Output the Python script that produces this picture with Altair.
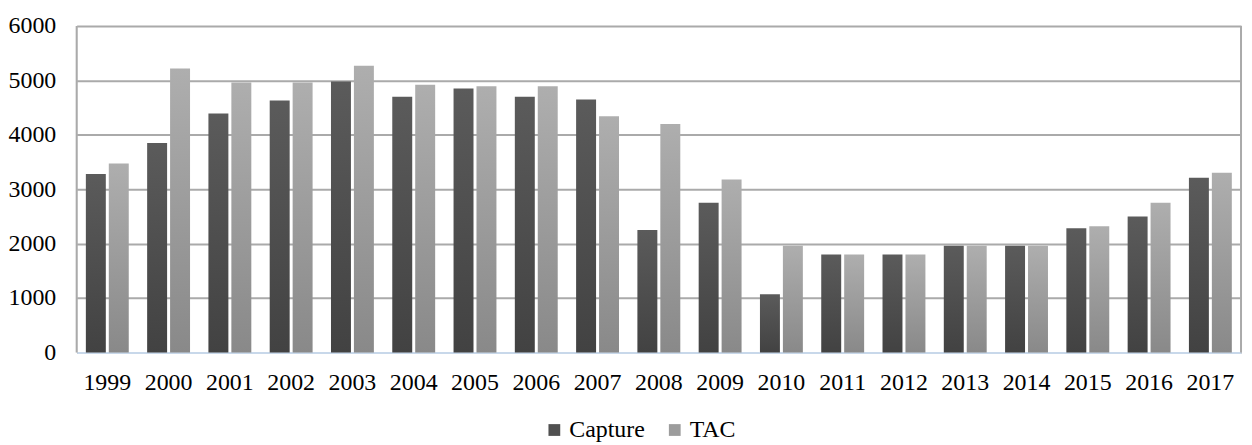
import altair as alt
import pandas as pd

years = [str(y) for y in range(1999, 2018)]
capture = [3280, 3850, 4390, 4630, 4980, 4700, 4850, 4700, 4650, 2250, 2750, 1070, 1800, 1800, 1960, 1960, 2280, 2500, 3210]
tac = [3470, 5220, 4960, 4960, 5270, 4920, 4890, 4890, 4340, 4200, 3180, 1960, 1800, 1800, 1960, 1960, 2320, 2750, 3300]
series = ["Capture", "TAC"]

rows = []
for i, y in enumerate(years):
    rows.append({"year": y, "series": "Capture", "value": capture[i]})
    rows.append({"year": y, "series": "TAC", "value": tac[i]})
df = pd.DataFrame(rows)

FONT = "Liberation Serif"
FS = 24

x = alt.X("year:N", sort=years, title=None,
          scale=alt.Scale(paddingInner=0.3, paddingOuter=0.15),
          axis=alt.Axis(labelAngle=0, labelFontSize=FS, labelFont=FONT, labelColor="#000",
                        ticks=False, labelPadding=18, domainColor="#c8d8ea", domainWidth=2,
                        grid=False))
y = alt.Y("value:Q", title=None,
          scale=alt.Scale(domain=[0, 6000], nice=False),
          axis=alt.Axis(values=[0, 1000, 2000, 3000, 4000, 5000, 6000], format="d",
                        labelFontSize=FS, labelFont=FONT, labelColor="#000", ticks=False,
                        labelPadding=21, domain=False, gridColor="#aaaaaa", gridWidth=2))
xo = alt.XOffset("series:N", scale=alt.Scale(domain=series, paddingInner=0.13))

def grad(top, bottom):
    return alt.Gradient(gradient="linear", x1=0, y1=0, x2=0, y2=1,
                        stops=[alt.GradientStop(color=top, offset=0),
                               alt.GradientStop(color=bottom, offset=1)])

cap_bars = alt.Chart(df).transform_filter(alt.datum.series == "Capture").mark_bar(
    fill=grad("#5b5b5b", "#424242")).encode(x=x, y=y, xOffset=xo)
tac_bars = alt.Chart(df).transform_filter(alt.datum.series == "TAC").mark_bar(
    fill=grad("#aeaeae", "#898989")).encode(x=x, y=y, xOffset=xo)

legend_layer = alt.Chart(df).mark_bar(opacity=0).encode(
    x=x, y=y, xOffset=xo,
    color=alt.Color("series:N", scale=alt.Scale(domain=series, range=["#505050", "#9c9c9c"]),
                    legend=alt.Legend(title=None, orient="none", legendX=468, legendY=394,
                                      direction="horizontal",
                                      symbolType="square", symbolSize=140, symbolOpacity=1,
                                      symbolStrokeWidth=0, labelFont=FONT, labelFontSize=FS,
                                      labelColor="#000", labelOffset=3, columnPadding=18)))

border = alt.Chart(pd.DataFrame({"a": [0]})).mark_rule(color="#aaaaaa", strokeWidth=2).encode(
    x=alt.value(0), y=alt.value(0), y2=alt.value(328))
border_r = alt.Chart(pd.DataFrame({"a": [0]})).mark_rule(color="#aaaaaa", strokeWidth=2).encode(
    x=alt.value(1170), y=alt.value(0), y2=alt.value(328))

chart = alt.layer(legend_layer, cap_bars, tac_bars, border, border_r).properties(
    width=1170, height=328,
    padding={"left": 0, "top": 5, "right": 2, "bottom": 0},
).configure_view(stroke=None).configure(background="white")

chart.save("out.html", embed_options={"renderer": "svg", "actions": False})
